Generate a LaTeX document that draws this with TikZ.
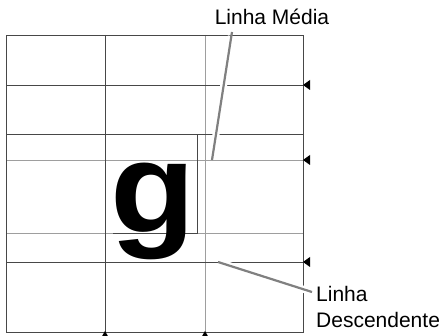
\documentclass[tikz,border=0pt]{standalone}
\usepackage{fontspec}
\setmainfont{Liberation Sans}
\begin{document}
\begin{tikzpicture}[x=1pt,y=-1pt,
  escura/.style={draw=black!72,line width=0.9pt},
  clara/.style={draw=black!38,line width=0.9pt},
  guia/.style={draw=black!50,line width=2.2pt,preaction={draw=white,line width=7pt,shorten <=4pt,shorten >=4pt}},
  rotulo/.style={font=\fontsize{21}{26}\selectfont,inner sep=0pt}]
  \useasboundingbox (0,0) rectangle (442,336);
  \draw[clara] (6,160)--(303,160) (6,233)--(303,233) (205,35)--(205,332);
  \draw[escura] (6,35) rectangle (303,332);
  \foreach \y in {85,134,262} \draw[escura] (6,\y)--(303,\y);
  \draw[escura] (105,35)--(105,332);
  \draw[escura] (113,233)--(197,233)--(197,134);
  \node[font=\fontsize{129}{129}\bfseries\selectfont,inner sep=0pt,anchor=base] (letra) at (153,233) {\scalebox{1.08}[1]{g}};
  \foreach \y in {85,160,262} \fill (303,\y)--(310,\y-5)--(310,\y+5)--cycle;
  \foreach \x in {105,205} \fill (\x,331)--(\x-4,338)--(\x+4,338)--cycle;
  \node[rotulo,anchor=base] (media) at (272,25) {Linha Média};
  \node[rotulo,anchor=north west,align=left] (desc) at (316,286) {Linha\\Descendente};
  \coordinate (mediaA) at (212,160);
  \coordinate (mediaB) at (232,32);
  \coordinate (descA) at (218,262);
  \coordinate (descB) at (312,292);
  \draw[guia] (mediaA)--(mediaB);
  \draw[guia] (descA)--(descB);
\end{tikzpicture}
\end{document}
